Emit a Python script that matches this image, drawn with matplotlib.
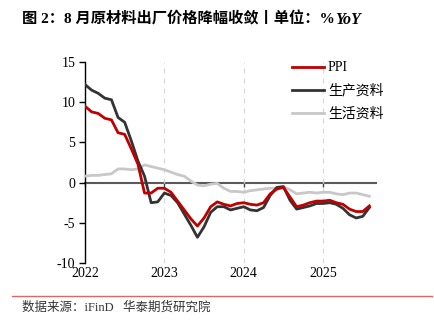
import matplotlib
matplotlib.use("Agg")
import matplotlib.pyplot as plt
import numpy as np

months = [f"{y}-{m:02d}" for y in (2022, 2023, 2024, 2025) for m in range(1, 13)][:44]

ppi = [9.5, 8.8, 8.6, 8.0, 7.8, 6.2, 6.0, 4.2, 2.3, -1.3, -1.3, -0.7,
       -0.7, -1.2, -2.3, -3.4, -4.5, -5.4, -4.4, -3.0, -2.4, -2.7, -2.9, -2.6,
       -2.5, -2.7, -2.8, -2.5, -1.4, -0.8, -0.6, -1.8, -3.0, -2.8, -2.5, -2.3,
       -2.3, -2.2, -2.5, -2.7, -3.3, -3.6, -3.6, -2.9]
producer = [12.2, 11.5, 11.1, 10.5, 10.3, 8.1, 7.5, 5.2, 2.7, 0.8, -2.5, -2.4,
            -1.3, -1.6, -2.5, -3.9, -5.3, -6.8, -5.5, -3.7, -3.0, -3.0, -3.4, -3.2,
            -3.0, -3.4, -3.5, -3.1, -1.6, -0.6, -0.5, -2.2, -3.3, -3.1, -2.9, -2.6,
            -2.6, -2.5, -2.7, -3.2, -4.0, -4.4, -4.2, -3.1]
consumer = [0.8, 0.9, 0.9, 1.0, 1.1, 1.7, 1.7, 1.6, 1.7, 2.2, 2.0, 1.8,
            1.6, 1.3, 1.0, 0.8, 0.2, -0.3, -0.4, -0.2, -0.1, -0.7, -1.1, -1.1,
            -1.2, -1.0, -0.9, -0.8, -0.7, -0.7, -0.5, -0.9, -1.4, -1.3, -1.2, -1.3,
            -1.2, -1.2, -1.4, -1.5, -1.3, -1.3, -1.5, -1.7]
year_labels = ["2022", "2023", "2024", "2025"]
series_names = ["PPI", "生产资料", "生活资料"]

plt.rcParams['font.family'] = ['Liberation Serif', 'Noto Sans CJK SC']
plt.rcParams['axes.unicode_minus'] = False

fig = plt.figure(figsize=(4.34, 3.23), dpi=100)
ax = fig.add_axes([85/434, 1-263/323, (376-85)/434, (263-62)/323])

x = np.arange(len(months))
ax.plot(x, consumer, color='#C8C8C8', lw=2.0, label=series_names[2], solid_joinstyle='round', zorder=3)
ax.plot(x, producer, color='#333333', lw=2.0, label=series_names[1], solid_joinstyle='round', zorder=4)
ax.plot(x, ppi, color='#C00000', lw=2.0, label=series_names[0], solid_joinstyle='round', zorder=5)

ax.set_xlim(0, 44)
ax.set_ylim(-10, 15)
ax.set_yticks([-10, -5, 0, 5, 10, 15])
ax.tick_params(axis='y', direction='out', length=4, width=1, labelsize=10, pad=3, color='black')

year_pos = [months.index(f"{y}-01") for y in year_labels]
ax.set_xticks(year_pos)
ax.set_xticklabels(year_labels, fontsize=10)
ax.tick_params(axis='x', length=0, pad=3)

for p in year_pos[1:]:
    ax.axvline(p, color='#D9D9D9', lw=0.9, ls=(0, (4, 4)), zorder=1)

for s in ['top', 'right', 'bottom']:
    ax.spines[s].set_visible(False)
ax.spines['left'].set_color('black')
ax.spines['left'].set_linewidth(1.0)

sec = ax.secondary_xaxis(0.4)
sec.set_xticks(year_pos)
sec.set_xticklabels([])
sec.tick_params(axis='x', direction='out', length=3, width=1, color='#404040')
sec.spines['bottom'].set_color('#595959')
sec.spines['bottom'].set_linewidth(1.5)

handles, labels = ax.get_legend_handles_labels()
order = [2, 1, 0]
leg = ax.legend([handles[i] for i in order], [labels[i] for i in order],
                loc='upper left', bbox_to_anchor=(0.668, 1.065), frameon=False,
                fontsize=10, handlelength=2.3, handletextpad=0.3, labelspacing=0.7)

yb = 1 - 24/323
t = fig.text(22/434, yb, "图 2：8 月原材料出厂价格降幅收敛丨单位：%", fontsize=11,
             fontweight='bold', va='baseline', ha='left',
             family=['Liberation Serif', 'Noto Sans CJK SC'])
fig.canvas.draw()
ax.annotate("YoY", xy=(1, yb), xycoords=(t, 'figure fraction'), va='baseline', ha='left',
            fontsize=11.5, fontweight='bold', fontstyle='italic', family='Liberation Serif',
            annotation_clip=False)

fig.add_artist(plt.Line2D([12/434, 432/434], [1-296/323, 1-296/323], color='#E06666', lw=1.0))
fig.text(22/434, 1-308/323, "数据来源：iFinD   华泰期货研究院", fontsize=9, va='center', ha='left',
         color='#333333', family=['Liberation Serif', 'Noto Sans CJK SC'])

fig.savefig("out.png", dpi=100)
